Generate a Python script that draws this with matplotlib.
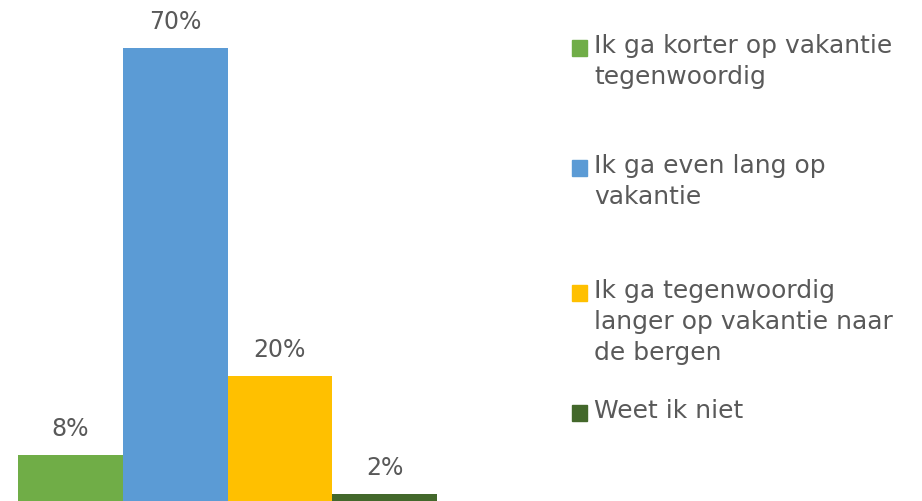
import matplotlib
matplotlib.use("Agg")
import matplotlib.pyplot as plt
from matplotlib.patches import Rectangle

categories = ["Ik ga korter op vakantie\ntegenwoordig",
              "Ik ga even lang op\nvakantie",
              "Ik ga tegenwoordig\nlanger op vakantie naar\nde bergen",
              "Weet ik niet"]
values = [8, 70, 20, 2]
colors = ["#70AD47", "#5B9BD5", "#FFC000", "#43682B"]
legend_y = [48, 168, 293, 413]  # pixel row of first line of each legend entry

plt.rcParams['font.family'] = ['DejaVu Sans']
W, H = 922, 501
fig = plt.figure(figsize=(W / 100, H / 100), dpi=100)
ax = fig.add_axes([18 / W, -6 / H, 419 / W, 507 / H])

x = range(len(values))
bars = ax.bar(x, values, width=1.0, color=colors)
ax.set_xlim(-0.5, len(values) - 0.5)
ax.set_ylim(0, 77.3)
ax.axis('off')

for b, v in zip(bars, values):
    ax.annotate(f"{v}%", (b.get_x() + b.get_width() / 2, v),
                xytext=(0, 18.5), textcoords='offset points',
                ha='center', va='center', fontsize=17, color='#595959')

for lab, c, yp in zip(categories, colors, legend_y):
    fig.patches.append(Rectangle((572 / W, 1 - (yp + 8) / H), 15 / W, 16 / H,
                                 transform=fig.transFigure, color=c))
    fig.text(594 / W, 1 - (yp - 14) / H, lab, fontsize=18, color='#595959',
             ha='left', va='top', linespacing=1.37)

fig.savefig("out.png", dpi=100)
